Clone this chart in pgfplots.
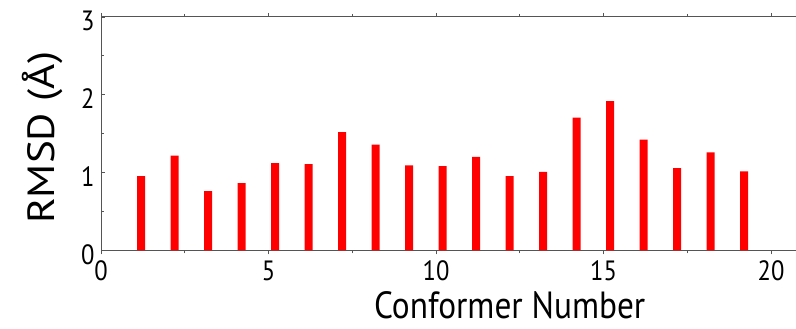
\documentclass[border=0pt]{standalone}
\usepackage{fontspec}
\setmainfont{PT Sans}[FakeStretch=0.88]
\usepackage{graphicx}
\usepackage{pgfplots}
\pgfplotsset{compat=1.18}
\definecolor{axisgray}{HTML}{555555}
\begin{document}
\begin{tikzpicture}
\begin{axis}[
  name=main,
  at={(0bp,0bp)}, anchor=south west,
  scale only axis, width=703.5bp, height=233.3bp,
  xmin=0, xmax=21, ymin=0, ymax=3,
  xtick={0,5,10,15,20}, ytick={0,1,2,3},
  minor xtick={2.5,7.5,12.5,17.5}, minor ytick={0.5,1.5,2.5},
  xtick pos=both, ytick pos=left,
  tick align=inside, major tick length=4bp, minor tick length=3bp,
  axis line style={axisgray, line width=1bp},
  every tick/.style={axisgray, line width=0.9bp},
  /pgf/number format/assume math mode=true,
  tick label style={font=\fontsize{28}{30}\selectfont},
  xticklabel style={yshift=-3bp},
  yticklabel style={xshift=-3bp, yshift=-4bp},
  xlabel={Conformer Number},
  every axis x label/.style={at={(axis cs:12.2,0)}, anchor=base, yshift=-68bp, font=\fontsize{38}{42}\selectfont},
  ybar, bar width=8bp, bar shift=6.7bp,
]
\addplot[fill=red, draw=none] coordinates {
(1,0.955) (2,1.217) (3,0.762) (4,0.865) (5,1.122) (6,1.109) (7,1.52) (8,1.358)
(9,1.093) (10,1.084) (11,1.20) (12,0.955) (13,1.01) (14,1.705) (15,1.919)
(16,1.423) (17,1.058) (18,1.26) (19,1.015)};
\end{axis}
\node[rotate=90, anchor=base, font=\fontsize{38}{42}\selectfont, inner sep=0pt] at (-46bp,112.5bp) {\resizebox{172bp}{\height}{RMSD (Å)}};
\pgfresetboundingbox
\path (-101bp,-78bp) rectangle (695bp,250.3bp);
\end{tikzpicture}
\end{document}
